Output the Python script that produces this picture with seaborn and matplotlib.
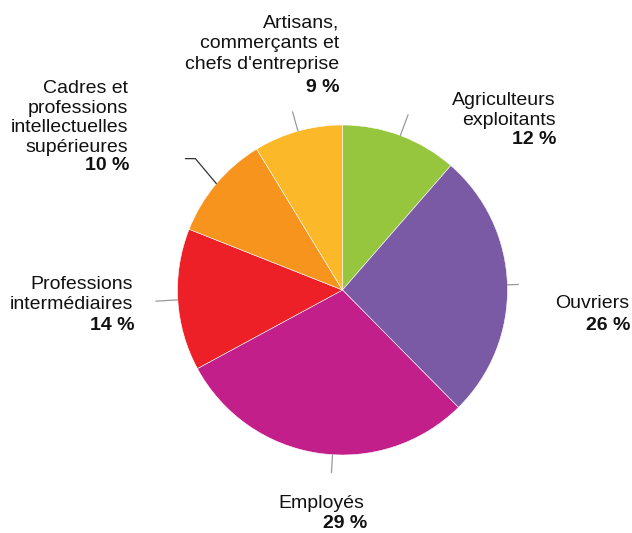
import numpy as np
import matplotlib
matplotlib.use("Agg")
import matplotlib.pyplot as plt
import seaborn as sns

# ── Data (clockwise from 12 o'clock) ─────────────────────────────────────────
labels = [
    "Agriculteurs\nexploitants",
    "Ouvriers",
    "Employés",
    "Professions\nintermédiaires",
    "Cadres et\nprofessions\nintellectuelles\nsupérieures",
    "Artisans,\ncommerçants et\nchefs d'entreprise",
]
values = [11.4, 26.2, 29.5, 13.9, 10.3, 8.7]
pct_labels = ["12 %", "26 %", "29 %", "14 %", "10 %", "9 %"]
colors = ["#95c63d", "#7a59a5", "#c21f8a", "#ee2027", "#f7941e", "#fbb829"]

# ── Layout (pixel space, y up) ───────────────────────────────────────────────
W, H = 632, 533
CX, CY, R = 342.5, H - 290, 165
# label: right edge, centre of first line; percentage: right edge, centre
text_pos = [(556, H - 100), (629, H - 303), (364, H - 503),
            (133, H - 284), (128, H - 88), (339, H - 22)]
line_sp = [1.2, 1.2, 1.2, 1.2, 1.2, 1.32]
pct_pos = [(556, H - 139), (630, H - 326), (367, H - 524),
           (135, H - 326), (129, H - 166), (339, H - 88)]
leader_len = [22, 11, 18, 22, 0, 20]
leader_shift = [0, 0, 5, 0, 0, 0]   # degrees, nudges the leader along the rim
FS = 14

sns.set_theme(style="white")
plt.rcParams["font.family"] = ["Liberation Sans", "DejaVu Sans"]

fig = plt.figure(figsize=(W / 100, H / 100), dpi=100)
ax = fig.add_axes([0, 0, 1, 1])
ax.pie(values, colors=colors, startangle=90, counterclock=False,
       center=(CX, CY), radius=R, frame=True,
       wedgeprops=dict(edgecolor="white", linewidth=0.4))
ax.set_xlim(0, W)
ax.set_ylim(0, H)
ax.set_aspect("equal")
ax.axis("off")

cum = np.cumsum([0] + values[:-1])
total = sum(values)
for i, v in enumerate(values):
    mid = np.deg2rad(90 - 360 * (cum[i] + v / 2) / total + leader_shift[i])
    x0, y0 = CX + R * np.cos(mid), CY + R * np.sin(mid)
    if leader_len[i]:
        x1 = CX + (R + leader_len[i]) * np.cos(mid)
        y1 = CY + (R + leader_len[i]) * np.sin(mid)
        ax.plot([x0, x1], [y0, y1], color="#999999", lw=0.9)
    else:
        # elbow leader for the Cadres slice
        x1 = x0 - 21
        y1 = y0 + 25
        ax.plot([x0, x1, x1 - 10], [y0, y1, y1], color="#333333", lw=0.9)

    tx, ty = text_pos[i]
    ax.text(tx, ty + 8, labels[i], ha="right", va="top", fontsize=FS,
            color="#111111", linespacing=line_sp[i])
    px, py = pct_pos[i]
    ax.text(px, py, pct_labels[i], ha="right", va="center",
            fontsize=FS, fontweight="bold", color="#111111")

fig.savefig("out.png", dpi=100)
